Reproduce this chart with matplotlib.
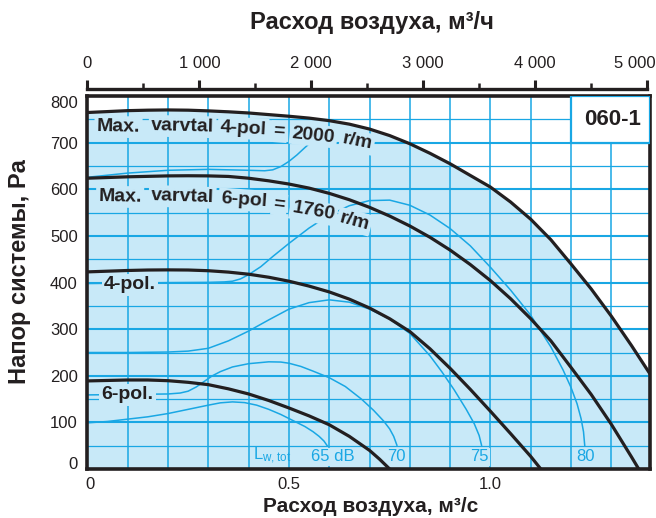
import matplotlib
matplotlib.use("Agg")
import matplotlib.pyplot as plt
from matplotlib import font_manager
from matplotlib.patches import Rectangle
from matplotlib.ticker import FixedLocator, MultipleLocator
from matplotlib.transforms import ScaledTranslation

# Fan curves, flow in m3/s, pressure in Pa
q_max4 = [0, 0.05, 0.1, 0.15, 0.2, 0.25, 0.3, 0.35, 0.4, 0.45, 0.5, 0.55, 0.6, 0.65, 0.7, 0.75,
          0.8, 0.85, 0.9, 0.95, 1.0, 1.05, 1.1, 1.15, 1.2, 1.25, 1.3, 1.35, 1.396]
p_max4 = [765, 767, 769, 770, 770.5, 770, 768.5, 766.5, 764, 760.5, 757, 753, 747.5, 740, 729.5, 715.5,
          698, 677.5, 655, 630, 605, 573, 536, 492, 440, 386.5, 328, 265, 204]

q_max6 = [0, 0.05, 0.1, 0.15, 0.2, 0.25, 0.3, 0.35, 0.4, 0.45, 0.5, 0.55, 0.6, 0.65, 0.7, 0.75,
          0.8, 0.85, 0.9, 0.95, 1.0, 1.05, 1.1, 1.15, 1.2, 1.25, 1.3, 1.35, 1.368]
p_max6 = [624, 625.5, 627, 628, 629, 629.3, 629, 627.8, 624, 618.4, 611.5, 602.8, 591.5, 577.8, 561.5, 542.8,
          521.5, 497.3, 469.8, 438.8, 404.3, 365.5, 322.5, 275, 218, 160, 96, 26, 0]

q_4pol = [0, 0.05, 0.1, 0.15, 0.2, 0.25, 0.3, 0.35, 0.4, 0.45, 0.5, 0.55, 0.6, 0.65, 0.7, 0.75,
          0.8, 0.85, 0.9, 0.95, 1.0, 1.05, 1.1, 1.125]
p_4pol = [423, 424.5, 426, 427, 427.3, 427, 425.5, 422.5, 418, 411.5, 403, 392.5, 380, 364.5, 345.5, 322.5,
          295, 258, 216, 171, 124, 76, 27, 0]

q_6pol = [0, 0.05, 0.1, 0.15, 0.2, 0.25, 0.3, 0.35, 0.4, 0.45, 0.5, 0.55, 0.6, 0.65, 0.7, 0.725, 0.75]
p_6pol = [189, 190, 191, 191, 189.5, 186, 181, 172, 161, 147, 131, 114, 95, 70, 40, 21, 0]

# Sound level curves (Lw,tot) incl. their leader lines
q_65 = [0, 0.05, 0.1, 0.15, 0.2, 0.25, 0.3, 0.33, 0.36, 0.39, 0.42, 0.45, 0.48, 0.51, 0.54, 0.56,
        0.575, 0.587, 0.595]
p_65 = [99, 102, 107, 112, 119, 128, 137, 142, 144, 142.5, 137, 128, 117, 104, 91, 80, 70, 60, 50]

q_70 = [0, 0.1, 0.2, 0.23, 0.25, 0.27, 0.29, 0.31, 0.33, 0.36, 0.4, 0.45, 0.48, 0.5, 0.53, 0.56, 0.6,
        0.64, 0.68, 0.71, 0.735, 0.75, 0.76, 0.768]
p_70 = [159, 160, 161, 163, 167, 176, 188, 200, 209, 219, 226, 230, 229.5, 227, 220, 210, 196,
        177, 150, 126, 103, 86, 70, 51]

q_75 = [0, 0.1, 0.2, 0.25, 0.3, 0.35, 0.4, 0.45, 0.5, 0.55, 0.6, 0.65, 0.7, 0.75, 0.8, 0.85, 0.88,
        0.91, 0.94, 0.96, 0.972, 0.978]
p_75 = [250, 250, 251, 253, 259, 275, 296, 320, 343, 357, 363, 358, 343, 322, 291, 243, 208,
        170, 128, 97, 72, 51]

q_80 = [0, 0.1, 0.2, 0.3, 0.34, 0.36, 0.38, 0.4, 0.43, 0.46, 0.5, 0.55, 0.6, 0.65, 0.7, 0.75, 0.8,
        0.85, 0.9, 0.95, 1.0, 1.05, 1.1, 1.15, 1.18, 1.2, 1.215, 1.225, 1.231, 1.234]
p_80 = [398, 399, 400, 400.5, 401.5, 403, 408, 417, 434, 456, 484, 517, 545, 565, 576, 577, 566,
        545, 516, 479, 433, 384, 330, 262, 213, 175, 140, 108, 80, 51]

q_lead = [0, 0.1, 0.2, 0.3, 0.4, 0.44, 0.46, 0.48, 0.5, 0.52, 0.54, 0.56]
p_lead = [626, 635, 641, 643, 641, 640, 642, 649, 660, 674, 690, 705]

x_ticks = [0, 0.5, 1.0]
x_tick_labels = ["0", "0.5", "1.0"]
y_ticks = [0, 100, 200, 300, 400, 500, 600, 700, 800]
top_ticks = [0, 1000, 2000, 3000, 4000, 5000]
top_tick_labels = ["0", "1 000", "2 000", "3 000", "4 000", "5 000"]

db_labels = ["65 dB", "70", "75", "80"]
db_label_q = [0.61, 0.766, 0.972, 1.237]

# words of the two speed labels: text, flow, pressure, rotation
label_4pol = [("Max.", 0.077, 734, -1), ("varvtal", 0.236, 735, -1.5), ("4-pol", 0.387, 731, -3),
              ("=", 0.476, 724, -4), ("2000", 0.561, 716, -6), ("r/m", 0.669, 702, -11)]
label_6pol = [("Max.", 0.081, 584, -1), ("varvtal", 0.236, 584, -2), ("6-pol", 0.389, 577, -4),
              ("=", 0.476, 567, -7), ("1760", 0.561, 552, -10), ("r/m", 0.662, 531, -15)]

FILL = "#c8e9f8"
GRID = "#19a7e4"
INK = "#231f20"
X_MAX = 1.396


def pick_font(names):
    for name in names:
        try:
            font_manager.findfont(name, fallback_to_default=False)
            return name
        except ValueError:
            continue
    return "DejaVu Sans"


base = pick_font(["Liberation Sans", "Arial"])
tick_size = 12
plt.rcParams["font.family"] = [base, "DejaVu Sans"]


def nudge(label, dx, dy):
    label.set_transform(label.get_transform() + ScaledTranslation(dx / 100, dy / 100, fig.dpi_scale_trans))


fig = plt.figure(figsize=(6.56, 5.18), dpi=100)
ax = fig.add_axes([87.4 / 656, 49 / 518, 562.6 / 656, 372.8 / 518])
ax.set_xlim(0, X_MAX)
ax.set_ylim(0, 800)

ax.fill_between(q_max4, 0, p_max4, color=FILL, lw=0, zorder=1)

ax.set_axisbelow("line")
ax.xaxis.set_major_locator(FixedLocator(x_ticks))
ax.xaxis.set_minor_locator(MultipleLocator(0.1))
ax.yaxis.set_major_locator(FixedLocator(y_ticks))
ax.yaxis.set_minor_locator(MultipleLocator(50))
ax.set_xticklabels(x_tick_labels)
ax.grid(True, which="major", axis="x", color=GRID, lw=1.1)
ax.grid(True, which="minor", axis="x", color=GRID, lw=1.1)
ax.grid(True, which="major", axis="y", color=GRID, lw=1.5)
ax.grid(True, which="minor", axis="y", color=GRID, lw=0.9)
ax.tick_params(which="both", length=0, labelsize=tick_size, labelcolor=INK)
ax.tick_params(axis="x", pad=6)
ax.tick_params(axis="y", pad=7)
for sp in ax.spines.values():
    sp.set_linewidth(2.6)
    sp.set_color(INK)

for q, p in [(q_65, p_65), (q_70, p_70), (q_75, p_75), (q_80, p_80), (q_lead, p_lead)]:
    ax.plot(q, p, color=GRID, lw=1.1, zorder=2)

for q, p in [(q_max4, p_max4), (q_max6, p_max6), (q_4pol, p_4pol), (q_6pol, p_6pol)]:
    ax.plot(q, p, color=INK, lw=2.3, zorder=4, solid_capstyle="butt")

word_box = dict(boxstyle="square,pad=0.12", fc=FILL, ec="none")
for words in (label_4pol, label_6pol):
    for text, q, p, rot in words:
        ax.text(q, p, text, fontsize=14, fontweight="bold", color=INK, rotation=rot,
                rotation_mode="anchor", ha="center", va="center", bbox=word_box, zorder=3)

ax.text(0.106, 395, "4-pol.", fontsize=14, fontweight="bold", color=INK,
        ha="center", va="center", bbox=word_box, zorder=3)
ax.text(0.0995, 159, "6-pol.", fontsize=14, fontweight="bold", color=INK,
        ha="center", va="center", bbox=word_box, zorder=3)

db_box = dict(boxstyle="square,pad=0.1", fc=FILL, ec="none")
for text, q in zip(db_labels, db_label_q):
    ax.text(q, 26, text, fontsize=tick_size, color=GRID,
            ha="center", va="center", bbox=db_box, zorder=3)
ax.text(0.412, 28, r"$\mathregular{L_{w,tot}}$", fontsize=12, color=GRID,
        ha="left", va="center", zorder=3)

ax.add_patch(Rectangle((1.2, 700), X_MAX - 1.2, 100, fc="white", ec=GRID, lw=1.6, zorder=2.8))
ax.text(1.302, 749, "060-1", fontsize=16, fontweight="bold", color=INK,
        ha="center", va="center", zorder=3)

# end labels sit a little inside the frame
nudge(ax.get_xticklabels()[0], 3, 0)
ylabs = ax.get_yticklabels()
nudge(ylabs[0], 0, 6)
nudge(ylabs[-1], 0, -6)

# secondary flow scale in m3/h above the plot
ax_top = fig.add_axes([87.4 / 656, (518 - 89.3) / 518 - 0.001, 562.6 / 656, 0.001])
ax_top.set_xlim(0, X_MAX * 3600)
ax_top.patch.set_visible(False)
for name, sp in ax_top.spines.items():
    sp.set_visible(name == "top")
ax_top.spines["top"].set_linewidth(2.4)
ax_top.spines["top"].set_color(INK)
ax_top.spines["top"].set_bounds(0, 5000)
ax_top.set_yticks([])
ax_top.xaxis.tick_top()
ax_top.set_xticks(top_ticks, top_tick_labels)
ax_top.xaxis.set_minor_locator(MultipleLocator(500))
ax_top.tick_params(which="major", direction="out", length=6.7, width=2.2, color=INK,
                   pad=6.5, labelsize=tick_size, labelcolor=INK)
ax_top.tick_params(which="minor", direction="out", length=4.6, width=1.8, color=INK)
nudge(ax_top.get_xticklabels()[-1], -12, 0)

fig.text(372 / 656, 1 - 23 / 518, "Расход воздуха, м³/ч", fontsize=17, fontweight="bold",
         color=INK, ha="center", va="center")
fig.text(371 / 656, 1 - 506 / 518, "Расход воздуха, м³/с", fontsize=15, fontweight="bold",
         color=INK, ha="center", va="center")
fig.text(20 / 656, 1 - 272 / 518, "Напор системы, Pa", fontsize=17, fontweight="bold",
         color=INK, ha="center", va="center", rotation=90)

fig.savefig("out.png", dpi=100)
